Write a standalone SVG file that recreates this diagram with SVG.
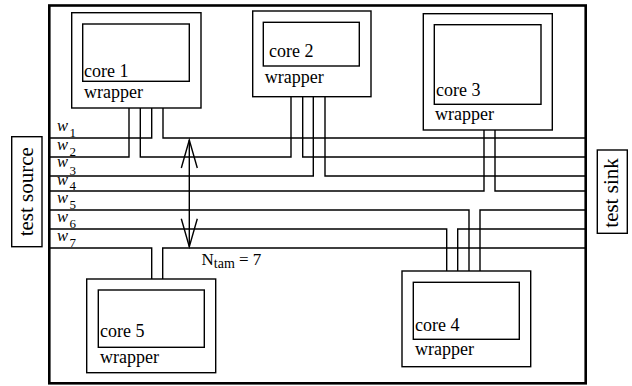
<svg xmlns="http://www.w3.org/2000/svg" width="632" height="386" viewBox="0 0 632 386">
<style>
.box{fill:none;stroke:#000;stroke-width:1.4}
.frame{fill:none;stroke:#000;stroke-width:2.6}
.wire{fill:none;stroke:#000;stroke-width:1.4}
.t{font-family:"Liberation Serif","Times New Roman",serif;font-size:18px;fill:#000}
.big{font-size:21px}
.w{font-family:"Liberation Serif","Times New Roman",serif;font-style:italic;font-size:16.5px;fill:#000}
.sub{font-family:"Liberation Serif","Times New Roman",serif;font-size:13px;fill:#000}
</style>
<defs>
<marker id="ah" markerUnits="userSpaceOnUse" markerWidth="32" markerHeight="20" refX="28" refY="8" orient="auto-start-reverse" overflow="visible">
<path d="M0,0 L28,8 L0,16" fill="none" stroke="#000" stroke-width="1.4"/>
</marker>
</defs>
<rect width="632" height="386" fill="#fff"/>
<rect id="soc" class="frame" x="49.3" y="5.5" width="536.4" height="377.8"/>

<g id="test-source">
<rect class="box" x="11.7" y="136.7" width="30.3" height="110"/>
<text class="t big" transform="translate(33.3,191.7) rotate(-90)" text-anchor="middle">test source</text>
</g>
<g id="test-sink">
<rect class="box" x="597.3" y="150" width="30" height="83.3"/>
<text class="t big" transform="translate(618,193) rotate(-90)" text-anchor="middle">test sink</text>
</g>

<g id="core1">
<rect class="box" x="71.7" y="12.7" width="129.3" height="95.3"/>
<rect class="box" x="82.7" y="24" width="106.6" height="57.3"/>
<text class="t" x="84" y="77">core 1</text>
<text class="t" x="84" y="98">wrapper</text>
</g>
<g id="core2">
<rect class="box" x="252.7" y="11" width="118.3" height="85.7"/>
<rect class="box" x="263.3" y="22.3" width="96" height="43.7"/>
<text class="t" x="269" y="57">core 2</text>
<text class="t" x="264.7" y="83">wrapper</text>
</g>
<g id="core3">
<rect class="box" x="423.3" y="13.7" width="129" height="116.3"/>
<rect class="box" x="434.3" y="24.7" width="106.7" height="79.6"/>
<text class="t" x="436" y="95.5">core 3</text>
<text class="t" x="435" y="120">wrapper</text>
</g>
<g id="core4">
<rect class="box" x="402" y="271" width="128.7" height="95.7"/>
<rect class="box" x="413.3" y="282.3" width="106" height="57"/>
<text class="t" x="415" y="330.5">core 4</text>
<text class="t" x="415" y="355">wrapper</text>
</g>
<g id="core5">
<rect class="box" x="86.7" y="279" width="129" height="93.7"/>
<rect class="box" x="98.3" y="290" width="106" height="57.3"/>
<text class="t" x="100" y="337">core 5</text>
<text class="t" x="100" y="363">wrapper</text>
</g>

<g id="connectors">
<path class="wire" d="M50 138 H151.7 V108 M163 108 V138 H585"/>
<path class="wire" d="M50 157 H129 V108 M140.3 108 V157 H291 V96.7 M302.7 96.7 V157 H585"/>
<path class="wire" d="M50 176 H313.3 V96.7 M325 96.7 V176 H585"/>
<path class="wire" d="M50 191 H484 V130 M495 130 V191 H585"/>
<path class="wire" d="M50 210 H469 V271 M480 271 V210 H585"/>
<path class="wire" d="M50 229 H446.7 V271 M457.7 271 V229 H585"/>
<path class="wire" d="M50 248 H151.7 V279 M162.7 279 V248 H585"/>
<line class="wire" x1="189.3" y1="140" x2="189.3" y2="246.7" marker-start="url(#ah)" marker-end="url(#ah)"/>
</g>

<g id="labels">
<text class="w" x="57" y="130.5">w</text><text class="sub" x="69.5" y="136.5">1</text>
<text class="w" x="57" y="149.5">w</text><text class="sub" x="69.5" y="155.5">2</text>
<text class="w" x="57" y="167">w</text><text class="sub" x="69.5" y="174.5">3</text>
<text class="w" x="57" y="185">w</text><text class="sub" x="69.5" y="189.5">4</text>
<text class="w" x="57" y="202.5">w</text><text class="sub" x="69.5" y="208.5">5</text>
<text class="w" x="57" y="221.5">w</text><text class="sub" x="69.5" y="227.5">6</text>
<text class="w" x="57" y="240.5">w</text><text class="sub" x="69.5" y="246.5">7</text>
<text class="t" x="201.5" y="265" style="font-size:17px">N<tspan style="font-size:14px" dy="3">tam</tspan><tspan dy="-3"> = 7</tspan></text>
</g>
</svg>
